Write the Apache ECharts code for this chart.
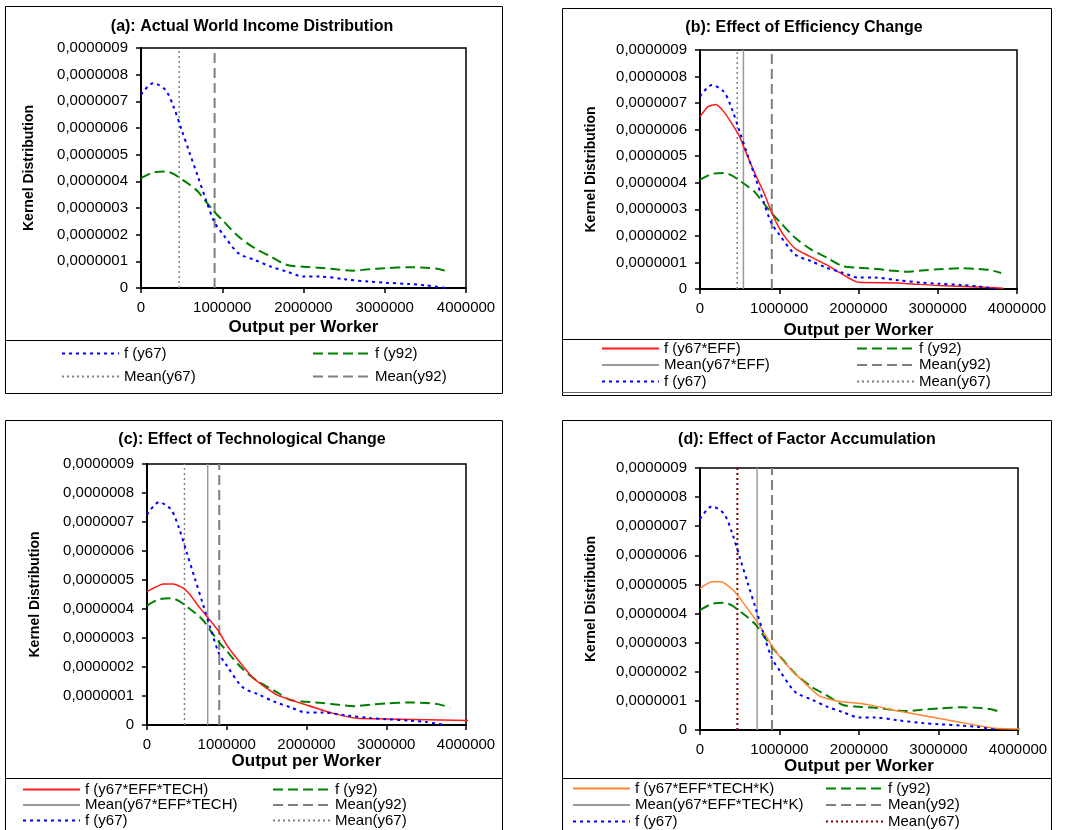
<!DOCTYPE html>
<html><head><meta charset="utf-8">
<script src="https://cdn.jsdelivr.net/npm/echarts@6/dist/echarts.min.js"></script>
<style>html,body{margin:0;padding:0;background:#fff}#c{width:1069px;height:830px}</style>
</head><body><div id="c"></div>
<script>
// ---------------- DATA ----------------
const TITLES = [
  '(a): Actual World Income Distribution',
  '(b): Effect of Efficiency Change',
  '(c): Effect of Technological Change',
  '(d): Effect of Factor Accumulation'
];
const X_TICK_MAX = 4000000;
const Y_TICK_MAX = 0.0000009;

// f (y67)
const X_F67 = [0,150000,300000,400000,500000,600000,700000,800000,900000,1000000,1200000,1400000,1600000,1800000,2000000,2200000,2500000,2800000,3000000,3300000,3500000,3750000];
const F67   = [7.25e-7,7.68e-7,7.43e-7,6.8e-7,5.93e-7,5.05e-7,4.18e-7,3.3e-7,2.49e-7,2.05e-7,1.3e-7,1.05e-7,0.8e-7,0.61e-7,0.43e-7,0.43e-7,0.33e-7,0.24e-7,0.2e-7,0.15e-7,0.1e-7,0];
// f (y92)
const X_F92 = [0,150000,300000,400000,500000,600000,700000,800000,900000,1000000,1200000,1400000,1600000,1800000,2000000,2200000,2400000,2600000,2800000,3000000,3300000,3500000,3650000,3800000];
const F92   = [4.12e-7,4.33e-7,4.37e-7,4.28e-7,4.08e-7,3.87e-7,3.62e-7,3.24e-7,2.87e-7,2.55e-7,1.93e-7,1.49e-7,1.18e-7,0.86e-7,0.8e-7,0.76e-7,0.7e-7,0.65e-7,0.7e-7,0.74e-7,0.78e-7,0.76e-7,0.72e-7,0.6e-7];
// f (y67*EFF)
const X_EFF = [0,100000,200000,300000,400000,500000,600000,700000,800000,900000,1000000,1100000,1220000,1600000,2000000,2500000,3000000,3500000,3830000];
const F_EFF = [6.49e-7,6.87e-7,6.95e-7,6.68e-7,6.24e-7,5.74e-7,4.99e-7,4.3e-7,3.67e-7,2.92e-7,2.29e-7,1.85e-7,1.48e-7,0.91e-7,0.25e-7,0.23e-7,0.13e-7,0.08e-7,0.03e-7];
// f (y67*EFF*TECH)
const X_TECH = [0,205000,330000,456000,540000,665000,770000,894000,1000000,1124000,1333000,1626000,2000000,2336000,2630000,3000000,4060000];
const F_TECH = [4.6e-7,4.86e-7,4.86e-7,4.72e-7,4.49e-7,4.03e-7,3.68e-7,3.25e-7,2.76e-7,2.3e-7,1.61e-7,1.04e-7,0.69e-7,0.4e-7,0.23e-7,0.21e-7,0.15e-7];
// f (y67*EFF*TECH*K)
const X_K = [0,143000,269000,416000,521000,626000,731000,836000,941000,1046000,1214000,1500000,1718000,2100000,2500000,3000000,3500000,3700000,4050000];
const F_K = [4.86e-7,5.09e-7,5.09e-7,4.81e-7,4.46e-7,4.06e-7,3.66e-7,3.2e-7,2.75e-7,2.37e-7,1.89e-7,1.17e-7,1.0e-7,0.88e-7,0.65e-7,0.4e-7,0.15e-7,0.06e-7,0.03e-7];
// means
const MEAN_Y67 = 470000;
const MEAN_Y92 = 906000;
const MEAN_EFF = 548000;
const MEAN_TECH = 761000;
const MEAN_K = 718000;

// ---------------- LAYOUT / STYLE ----------------
const FONT = "'Liberation Sans', Arial, sans-serif";
const GRIDS = [
  {left:141, top:48, width:325, height:240},
  {left:700, top:50, width:317, height:239},
  {left:147, top:464, width:319, height:261},
  {left:700, top:468, width:318, height:262}
];
const XNAMEGAP = [31, 33, 28, 26];
const YNAMEGAP = [105, 102, 105, 102];
const TITLE_POS = [[252,19],[804,20],[252,432],[807,432]];

const ST = {
  f67:  {color:'#0000ff', width:2, type:[3,4]},
  f92:  {color:'#008000', width:2, type:[10,5]},
  m67:  {color:'#808080', width:1.5, type:[2,3]},
  m92:  {color:'#808080', width:2, type:[10,5]},
  mNew: {color:'#9a9a9a', width:1.5, type:'solid'},
  red:  {color:'#ff1a1a', width:1.5, type:'solid'},
  orange:{color:'#ff8533', width:1.5, type:'solid'},
  m67d: {color:'#800000', width:2, type:[2,3]}
};

const zip = (xs, ys) => xs.map((x, i) => [x, ys[i]]);
function curve(name, gi, xs, ys, style, smooth, z) {
  return {type:'line', name, xAxisIndex:gi, yAxisIndex:gi, data:zip(xs, ys),
    symbol:'none', smooth: smooth, lineStyle:style, itemStyle:{color:style.color},
    clip:false, silent:true, z: z || 2, animation:false};
}
function vline(name, gi, xv, style) {
  return {type:'line', name, xAxisIndex:gi, yAxisIndex:gi, data:[[xv,0],[xv,Y_TICK_MAX]],
    symbol:'none', lineStyle:style, itemStyle:{color:style.color}, clip:false, silent:true, z:1, animation:false};
}

const series = [];
// (a)
series.push(vline('Mean(y67)', 0, MEAN_Y67, ST.m67));
series.push(vline('Mean(y92)', 0, MEAN_Y92, ST.m92));
series.push(curve('f (y92)', 0, X_F92, F92, ST.f92, 0.3));
series.push(curve('f (y67)', 0, X_F67, F67, ST.f67, 0.3, 3));
// (b)
series.push(vline('Mean(y67)', 1, MEAN_Y67, ST.m67));
series.push(vline('Mean(y67*EFF)', 1, MEAN_EFF, ST.mNew));
series.push(vline('Mean(y92)', 1, MEAN_Y92, ST.m92));
series.push(curve('f (y92)', 1, X_F92, F92, ST.f92, 0.3));
series.push(curve('f (y67*EFF)', 1, X_EFF, F_EFF, ST.red, 0.15));
series.push(curve('f (y67)', 1, X_F67, F67, ST.f67, 0.3, 3));
// (c)
series.push(vline('Mean(y67)', 2, MEAN_Y67, ST.m67));
series.push(vline('Mean(y67*EFF*TECH)', 2, MEAN_TECH, ST.mNew));
series.push(vline('Mean(y92)', 2, MEAN_Y92, ST.m92));
series.push(curve('f (y92)', 2, X_F92, F92, ST.f92, 0.3));
series.push(curve('f (y67*EFF*TECH)', 2, X_TECH, F_TECH, ST.red, 0.15));
series.push(curve('f (y67)', 2, X_F67, F67, ST.f67, 0.3, 3));
// (d)
series.push(vline('Mean(y67)', 3, MEAN_Y67, ST.m67d));
series.push(vline('Mean(y67*EFF*TECH*K)', 3, MEAN_K, ST.mNew));
series.push(vline('Mean(y92)', 3, MEAN_Y92, ST.m92));
series.push(curve('f (y92)', 3, X_F92, F92, ST.f92, 0.3));
series.push(curve('f (y67*EFF*TECH*K)', 3, X_K, F_K, ST.orange, 0.15));
series.push(curve('f (y67)', 3, X_F67, F67, ST.f67, 0.3, 3));

const grid = GRIDS.map(g => Object.assign({show:true, borderColor:'#000', borderWidth:1.5,
  backgroundColor:'#fff', containLabel:false, outerBoundsMode:'none'}, g));

const xAxis = GRIDS.map((g, i) => ({
  type:'value', gridIndex:i, min:0, max:X_TICK_MAX, interval:1000000,
  name:'Output per Worker', nameLocation:'middle', nameGap:XNAMEGAP[i],
  nameTextStyle:{fontFamily:FONT, fontSize:17, fontWeight:'bold', color:'#000'},
  axisLine:{show:true, onZero:false, lineStyle:{color:'#000', width:2}},
  axisTick:{show:true, length:5, lineStyle:{color:'#000', width:1.5}},
  axisLabel:{fontFamily:FONT, fontSize:15, color:'#000', margin:12, showMaxLabel:true, showMinLabel:true,
    formatter: v => String(Math.round(v))},
  splitLine:{show:false}
}));
const yAxis = GRIDS.map((g, i) => ({
  type:'value', gridIndex:i, min:0, max:Y_TICK_MAX, interval:0.0000001,
  name:'Kernel Distribution', nameLocation:'middle', nameGap:YNAMEGAP[i],
  nameTextStyle:{fontFamily:FONT, fontSize:14, fontWeight:'bold', color:'#000'},
  axisLine:{show:true, onZero:false, lineStyle:{color:'#000', width:2}},
  axisTick:{show:true, length:5, lineStyle:{color:'#000', width:1.5}},
  axisLabel:{fontFamily:FONT, fontSize:15, color:'#000', margin:13,
    formatter: v => (Math.abs(v) < 1e-12 ? '0' : v.toFixed(7).replace('.', ','))},
  splitLine:{show:false}
}));

const title = TITLES.map((t, i) => ({
  text:t, left:TITLE_POS[i][0], top:TITLE_POS[i][1], textAlign:'center', padding:0,
  textStyle:{fontFamily:FONT, fontSize:16, fontWeight:'bold', color:'#000'}
}));

function legend(left, top, gap, names) {
  return {show:true, orient:'vertical', left, top, itemGap:gap, itemWidth:57, itemHeight:14,
    padding:0, selectedMode:false, data:names,
    itemStyle:{color:'rgba(0,0,0,0)', borderColor:'rgba(0,0,0,0)', borderWidth:0, opacity:0},
    textStyle:{fontFamily:FONT, fontSize:15, color:'#000', lineHeight:14, padding:[0,0,0,0]}};
}
const legends = [
  legend(61, 346, 8, ['f (y67)', 'Mean(y67)']),
  legend(312, 346, 8, ['f (y92)', 'Mean(y92)']),
  legend(601, 341, 1.5, ['f (y67*EFF)', 'Mean(y67*EFF)', 'f (y67)']),
  legend(856, 341, 1.5, ['f (y92)', 'Mean(y92)', 'Mean(y67)']),
  legend(22, 782, 0.5, ['f (y67*EFF*TECH)', 'Mean(y67*EFF*TECH)', 'f (y67)']),
  legend(272, 782, 0.5, ['f (y92)', 'Mean(y92)', 'Mean(y67)']),
  legend(572, 781, 1.5, ['f (y67*EFF*TECH*K)', 'Mean(y67*EFF*TECH*K)', 'f (y67)']),
  legend(825, 781, 1.5, ['f (y92)', 'Mean(y92)',
    {name:'Mean(y67)', lineStyle:{color:ST.m67d.color, width:ST.m67d.width, type:ST.m67d.type}}])
];

function box(x, y, w, h) {
  return {type:'rect', silent:true, z:-10, shape:{x, y, width:w, height:h},
    style:{fill:'#fff', stroke:'#000', lineWidth:1}};
}
function hline(x1, x2, y, color) {
  return {type:'line', silent:true, z:-9, shape:{x1, y1:y, x2, y2:y},
    style:{stroke:color || '#000', lineWidth:1}};
}
const graphic = [
  box(5.5, 6.5, 497, 387), hline(5.5, 502.5, 340.5),
  box(562.5, 8.5, 489, 387), hline(562.5, 1051.5, 339.5), hline(562.5, 1051.5, 392.5, '#666'),
  box(5.5, 420.5, 497, 430), hline(5.5, 502.5, 778.5),
  box(562.5, 420.5, 489, 430), hline(562.5, 1051.5, 778.5)
];

const chart = echarts.init(document.getElementById('c'), null, {renderer:'canvas'});
chart.setOption({
  animation:false,
  backgroundColor:'#fff',
  title, grid, xAxis, yAxis, series, legend:legends, graphic,
  tooltip:{show:false}
});
</script>
</body></html>
